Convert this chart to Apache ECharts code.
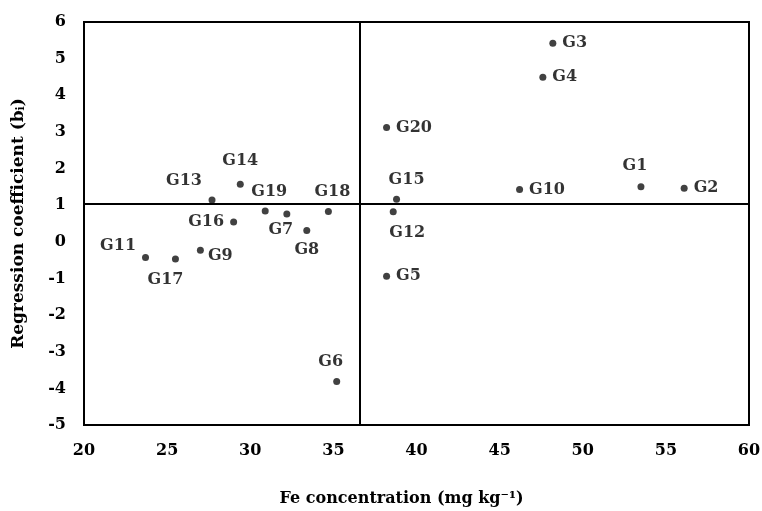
<!DOCTYPE html>
<html><head><meta charset="utf-8">
<script src="https://cdn.jsdelivr.net/npm/echarts@6/dist/echarts.min.js"></script>
<style>html,body{margin:0;padding:0;background:#fff}#c{width:762px;height:511px}</style>
</head><body><div id="c"></div>
<script>
const genotypes = ['G1','G2','G3','G4','G5','G6','G7','G8','G9','G10','G11','G12','G13','G14','G15','G16','G17','G18','G19','G20'];
const feConc   = [53.5,56.1,48.2,47.6,38.2,35.2,32.2,33.4,27.0,46.2,23.7,38.6,27.7,29.4,38.8,29.0,25.5,34.7,30.9,38.2];
const regCoef  = [1.50,1.46,5.42,4.49,-0.94,-3.81,0.76,0.31,-0.23,1.43,-0.43,0.82,1.14,1.57,1.16,0.54,-0.47,0.83,0.84,3.12];
const meanFe = 36.6;
const meanB = 1.03;
const xTicks = [20,25,30,35,40,45,50,55,60];
const yTicks = [-5,-4,-3,-2,-1,0,1,2,3,4,5,6];

const labelPlacement = {
  G1:{position:'top',offset:[-6,-4]}, G2:{position:'right'}, G3:{position:'right'}, G4:{position:'right'},
  G5:{position:'right'}, G6:{position:'top',offset:[-6,-2]}, G7:{position:'bottom',offset:[-6,-2]},
  G8:{position:'bottom',offset:[0,2]}, G9:{position:'right',offset:[-2,6]}, G10:{position:'right'},
  G11:{position:'left',offset:[0,-12]}, G12:{position:'bottom',offset:[14,4]}, G13:{position:'top',offset:[-28,-2]},
  G14:{position:'top',offset:[0,-6]}, G15:{position:'top',offset:[10,-2]}, G16:{position:'left'},
  G17:{position:'bottom',offset:[-10,3]}, G18:{position:'top',offset:[4,-2]}, G19:{position:'top',offset:[4,-2]},
  G20:{position:'right'}
};

const FONT = '"DejaVu Serif", serif';
const data = genotypes.map((g,i)=>({
  value:[feConc[i],regCoef[i]], name:g,
  label:Object.assign({show:true, formatter:g, fontFamily:FONT, fontWeight:'bold', fontSize:16, color:'#000', distance:6}, labelPlacement[g])
}));

const chart = echarts.init(document.getElementById('c'));
chart.setOption({
  animation:false,
  grid:{left:84,right:13,top:22,bottom:86,show:true,borderColor:'#000',borderWidth:2,outerBoundsMode:'none',containLabel:false},
  xAxis:{type:'value',min:xTicks[0],max:xTicks[xTicks.length-1],interval:5,
    axisLine:{show:false},axisTick:{show:false},splitLine:{show:false},
    axisLabel:{fontFamily:FONT,fontWeight:'bold',fontSize:16,color:'#000',margin:18},
    name:'Fe concentration (mg kg⁻¹)',nameLocation:'middle',nameGap:66,
    nameTextStyle:{fontFamily:FONT,fontWeight:'bold',fontSize:16,color:'#000',padding:[0,30,0,0]}},
  yAxis:{type:'value',min:yTicks[0],max:yTicks[yTicks.length-1],interval:1,
    axisLine:{show:false},axisTick:{show:false},splitLine:{show:false},
    axisLabel:{fontFamily:FONT,fontWeight:'bold',fontSize:16,color:'#000',margin:18},
    name:'{a|Regression coefficient (b}{s|i}{a|)}',nameLocation:'middle',nameGap:57,
    nameTextStyle:{rich:{a:{fontFamily:FONT,fontWeight:'bold',fontSize:17,color:'#000'},
                         s:{fontFamily:FONT,fontWeight:'bold',fontSize:11,color:'#000',verticalAlign:'bottom',padding:[6,0,0,0]}}}},
  series:[{type:'scatter',data:data,symbolSize:7,itemStyle:{color:'#111'},
    markLine:{silent:true,symbol:'none',label:{show:false},lineStyle:{color:'#000',width:2,type:'solid'},
      data:[{xAxis:meanFe},{yAxis:meanB}]}}]
});
</script></body></html>
